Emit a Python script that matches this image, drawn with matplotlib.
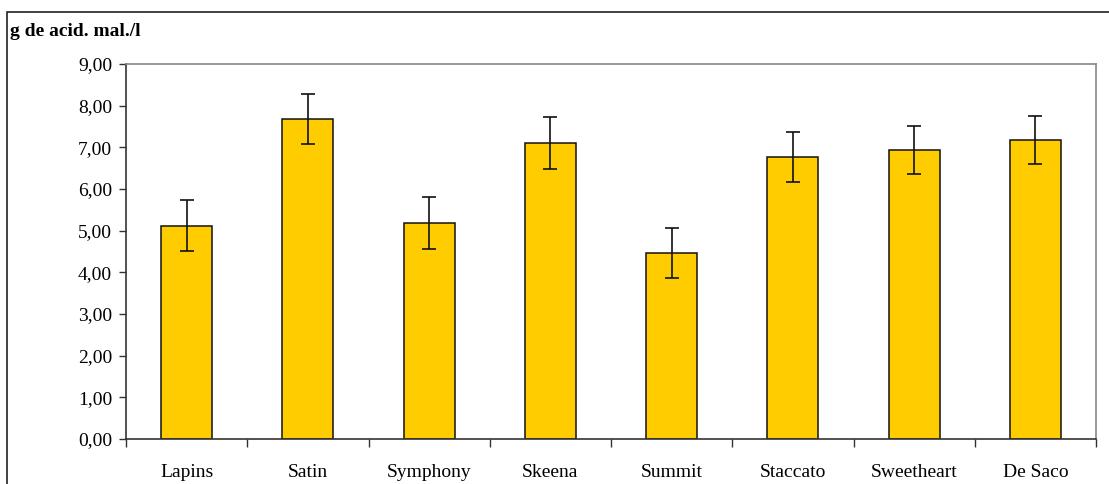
import matplotlib.pyplot as plt
from matplotlib.patches import Rectangle
import numpy as np

categories = ['Lapins', 'Satin', 'Symphony', 'Skeena', 'Summit', 'Staccato', 'Sweetheart', 'De Saco']
values = [5.12, 7.68, 5.19, 7.10, 4.47, 6.78, 6.94, 7.18]
errors = [0.61, 0.60, 0.62, 0.62, 0.60, 0.60, 0.58, 0.58]
yticks = [0, 1, 2, 3, 4, 5, 6, 7, 8, 9]

plt.rcParams['font.family'] = ['Liberation Serif', 'DejaVu Serif']

fig = plt.figure(figsize=(11.09, 4.84), dpi=100)
ax = fig.add_axes([126 / 1109, 45 / 484, 970 / 1109, 375 / 484])

x = np.arange(len(categories))
ax.bar(x, values, width=0.42, color='#FFCC00', edgecolor='#111111', linewidth=1.1, zorder=2)
ax.errorbar(x, values, yerr=errors, fmt='none', ecolor='#111111', elinewidth=1.2,
            capsize=4.8, capthick=1.2, zorder=3)

ax.set_xlim(-0.5, len(categories) - 0.5)
ax.set_ylim(0, 9)
ax.set_yticks(yticks)
ax.set_yticklabels([('%.2f' % v).replace('.', ',') for v in yticks], fontsize=14)
ax.tick_params(axis='y', length=5, width=1, color='#333333', pad=5)

ax.set_xticks(x)
ax.set_xticklabels(categories, fontsize=14)
ax.tick_params(axis='x', which='major', length=0, pad=18)
ax.set_xticks(np.arange(len(categories) + 1) - 0.5, minor=True)
ax.tick_params(axis='x', which='minor', length=6, width=1, color='#333333')

for side in ['left', 'bottom']:
    ax.spines[side].set_color('#333333')
    ax.spines[side].set_linewidth(1.2)
for side in ['top', 'right']:
    ax.spines[side].set_color('#888888')
    ax.spines[side].set_linewidth(1.2)

# outer frame of the chart area
fig.patches.append(Rectangle((7 / 1109, -0.1), 1.2, 1 - 12 / 484 + 0.1,
                             transform=fig.transFigure, fill=False,
                             edgecolor='#222222', linewidth=1.2))

fig.text(10 / 1109, 1 - 32 / 484, 'g de acid. mal./l', fontsize=14, fontweight='bold',
         ha='left', va='center')

fig.savefig('out.png', dpi=100)
